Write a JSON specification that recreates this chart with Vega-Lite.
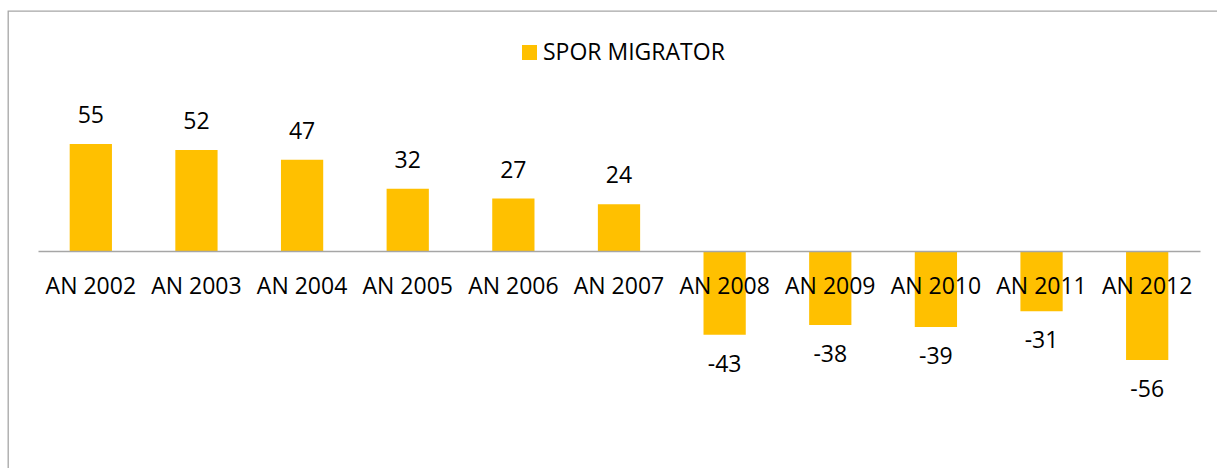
{
  "$schema": "https://vega.github.io/schema/vega-lite/v6.json",
  "autosize": "none",
  "width": 1215,
  "height": 463,
  "padding": {"left": 8, "top": 11, "right": -6, "bottom": -6},
  "background": "white",
  "config": {
    "view": {"stroke": "#a6a6a6", "strokeWidth": 1.3},
    "font": "Open Sans"
  },
  "data": {
    "values": [
      {"an": "AN 2002", "v": 55},
      {"an": "AN 2003", "v": 52},
      {"an": "AN 2004", "v": 47},
      {"an": "AN 2005", "v": 32},
      {"an": "AN 2006", "v": 27},
      {"an": "AN 2007", "v": 24},
      {"an": "AN 2008", "v": -43},
      {"an": "AN 2009", "v": -38},
      {"an": "AN 2010", "v": -39},
      {"an": "AN 2011", "v": -31},
      {"an": "AN 2012", "v": -56}
    ]
  },
  "encoding": {
    "x": {
      "field": "an",
      "type": "nominal",
      "sort": null,
      "title": null,
      "scale": {"range": [30, 1192], "paddingInner": 0.6, "paddingOuter": 0.3},
      "axis": {
        "orient": "bottom",
        "offset": -223,
        "zindex": 1,
        "labelAngle": 0,
        "ticks": false,
        "tickSize": 0,
        "domainColor": "#a6a6a6",
        "domainWidth": 1.3,
        "labelFont": "Open Sans",
        "labelFontSize": 23,
        "labelColor": "#000000",
        "labelPadding": 35,
        "labelBaseline": "middle",
        "labelLimit": 300,
        "grid": false
      }
    },
    "y": {
      "field": "v",
      "type": "quantitative",
      "scale": {"domain": [-114.6, 123.4], "nice": false, "zero": false},
      "axis": null
    }
  },
  "layer": [
    {
      "mark": {"type": "bar", "color": "#FFC000"},
      "encoding": {
        "color": {
          "datum": "SPOR MIGRATOR",
          "scale": {"range": ["#FFC000"]},
          "legend": {
            "title": null,
            "orient": "none",
            "legendX": 510,
            "legendY": 30,
            "padding": 0,
            "symbolType": "square",
            "symbolSize": 225,
            "symbolStrokeWidth": 0,
            "labelFont": "Open Sans",
            "labelFontSize": 23,
            "labelColor": "#000000",
            "labelOffset": 2,
            "labelLimit": 400
          }
        }
      }
    },
    {
      "transform": [{"filter": "datum.v > 0"}],
      "mark": {"type": "text", "dy": -28, "baseline": "middle", "fontSize": 23, "font": "Open Sans", "color": "#000000"},
      "encoding": {"text": {"field": "v", "type": "nominal"}}
    },
    {
      "transform": [{"filter": "datum.v < 0"}],
      "mark": {"type": "text", "dy": 30, "baseline": "middle", "fontSize": 23, "font": "Open Sans", "color": "#000000"},
      "encoding": {"text": {"field": "v", "type": "nominal"}}
    }
  ]
}
